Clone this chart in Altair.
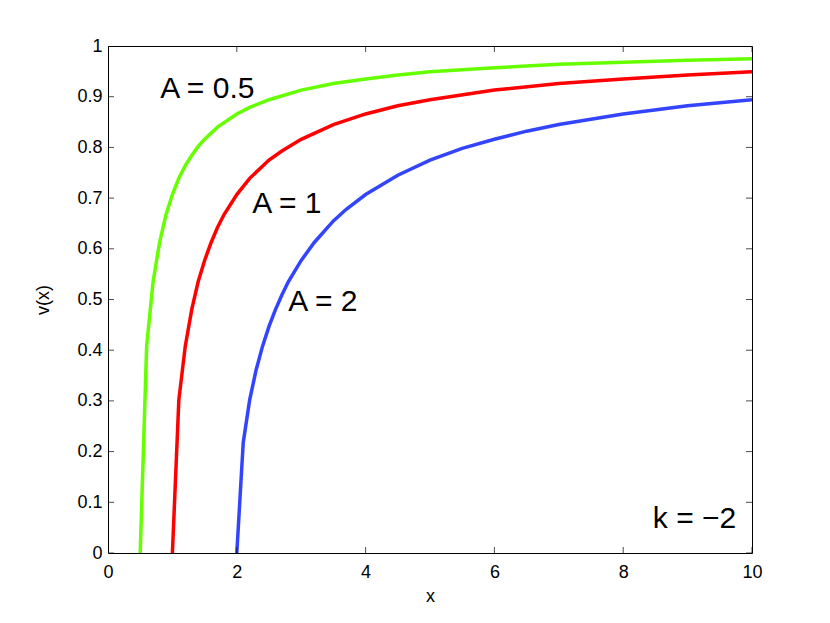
import altair as alt
import pandas as pd

# ---- data ----
green_x = [0.5, 0.6, 0.7, 0.8, 0.9, 1.0, 1.1, 1.2, 1.3, 1.4, 1.5, 1.7, 2.0, 2.2, 2.5, 3.0, 3.5, 4.0, 4.5, 5.0, 6.0, 7.0, 8.0, 9.0, 10.0]
green_v = [0.0, 0.408, 0.535, 0.612, 0.667, 0.707, 0.739, 0.764, 0.784, 0.802, 0.816, 0.840, 0.866, 0.879, 0.894, 0.913, 0.926, 0.935, 0.943, 0.949, 0.957, 0.964, 0.968, 0.972, 0.975]

red_x = [1.0, 1.1, 1.2, 1.3, 1.4, 1.5, 1.6, 1.7, 1.8, 2.0, 2.2, 2.5, 2.7, 3.0, 3.5, 4.0, 4.5, 5.0, 6.0, 7.0, 8.0, 9.0, 10.0]
red_v = [0.0, 0.302, 0.408, 0.480, 0.535, 0.577, 0.612, 0.642, 0.667, 0.707, 0.739, 0.775, 0.793, 0.816, 0.845, 0.866, 0.882, 0.894, 0.913, 0.926, 0.935, 0.943, 0.949]

blue_x = [2.0, 2.1, 2.2, 2.3, 2.4, 2.5, 2.6, 2.7, 2.8, 3.0, 3.2, 3.5, 3.7, 4.0, 4.5, 5.0, 5.5, 6.0, 6.5, 7.0, 8.0, 9.0, 10.0]
blue_v = [0.0, 0.218, 0.302, 0.361, 0.408, 0.447, 0.480, 0.509, 0.535, 0.577, 0.612, 0.655, 0.678, 0.707, 0.745, 0.775, 0.798, 0.816, 0.832, 0.845, 0.866, 0.882, 0.894]

series_names = ["A = 0.5", "A = 1", "A = 2"]
series_colors = ["#66ff00", "#ff0000", "#3344ff"]

x_ticks = [0, 2, 4, 6, 8, 10]
y_ticks = [0, 0.1, 0.2, 0.3, 0.4, 0.5, 0.6, 0.7, 0.8, 0.9, 1.0]

label_texts = ["A = 0.5", "A = 1", "A = 2", "k = \u22122"]
label_x = [0.81, 2.24, 2.80, 8.46]
label_v = [0.897, 0.670, 0.478, 0.050]

# ---- tables ----
rows = []
for name, xs, vs in zip(series_names, [green_x, red_x, blue_x], [green_v, red_v, blue_v]):
    for a, b in zip(xs, vs):
        rows.append({"x": a, "v": b, "series": name})
df = pd.DataFrame(rows)
df_xt = pd.DataFrame({"x": x_ticks})
df_yt = pd.DataFrame({"v": y_ticks})
df_lab = pd.DataFrame({"x": label_x, "v": label_v, "text": label_texts})

FONT = "Liberation Sans"
xscale = alt.Scale(domain=[0, 10], nice=False, zero=False)
yscale = alt.Scale(domain=[0, 1], nice=False, zero=False)

x_axis = alt.Axis(values=x_ticks, labelFlush=False, labelPadding=10, titlePadding=6, format="d")
y_axis = alt.Axis(values=y_ticks, labelFlush=False, labelPadding=6, titlePadding=24,
                  labelExpr="datum.value == 0 ? '0' : datum.value == 1 ? '1' : format(datum.value, '.1f')")


def X():
    return alt.X("x:Q", scale=xscale, title="x", axis=x_axis)


def Y():
    return alt.Y("v:Q", scale=yscale, title="v(x)", axis=y_axis)


lines = alt.Chart(df).mark_line(strokeWidth=3.5, clip=True).encode(
    x=X(), y=Y(),
    color=alt.Color("series:N", scale=alt.Scale(domain=series_names, range=series_colors), legend=None),
    detail="series:N",
)

tick_b = alt.Chart(df_xt).mark_tick(clip=True, size=12, thickness=1, color="black").encode(
    x=X(), y=alt.value(507))
tick_t = alt.Chart(df_xt).mark_tick(clip=True, size=12, thickness=1, color="black").encode(
    x=X(), y=alt.value(0))
tick_l = alt.Chart(df_yt).mark_tick(clip=True, size=12, thickness=1, color="black").encode(
    y=Y(), x=alt.value(0))
tick_r = alt.Chart(df_yt).mark_tick(clip=True, size=12, thickness=1, color="black").encode(
    y=Y(), x=alt.value(644))

texts = alt.Chart(df_lab).mark_text(align="left", baseline="alphabetic", fontSize=30,
                                    font=FONT, color="black").encode(
    x=X(), y=Y(), text="text:N",
)

chart = alt.layer(lines, tick_b, tick_t, tick_l, tick_r, texts).properties(
    width=644, height=507,
    padding={"left": 100, "top": 38, "right": 70, "bottom": 62},
    autosize="none",
    background="white",
).configure_view(
    stroke="black", strokeWidth=1
).configure_axis(
    domain=False, ticks=False, tickSize=0, grid=False,
    labelFont=FONT, labelFontSize=18, labelColor="black",
    titleFont=FONT, titleFontSize=18, titleFontWeight="normal", titleColor="black",
)

chart.save("out.html", embed_options={"renderer": "svg", "actions": False})
